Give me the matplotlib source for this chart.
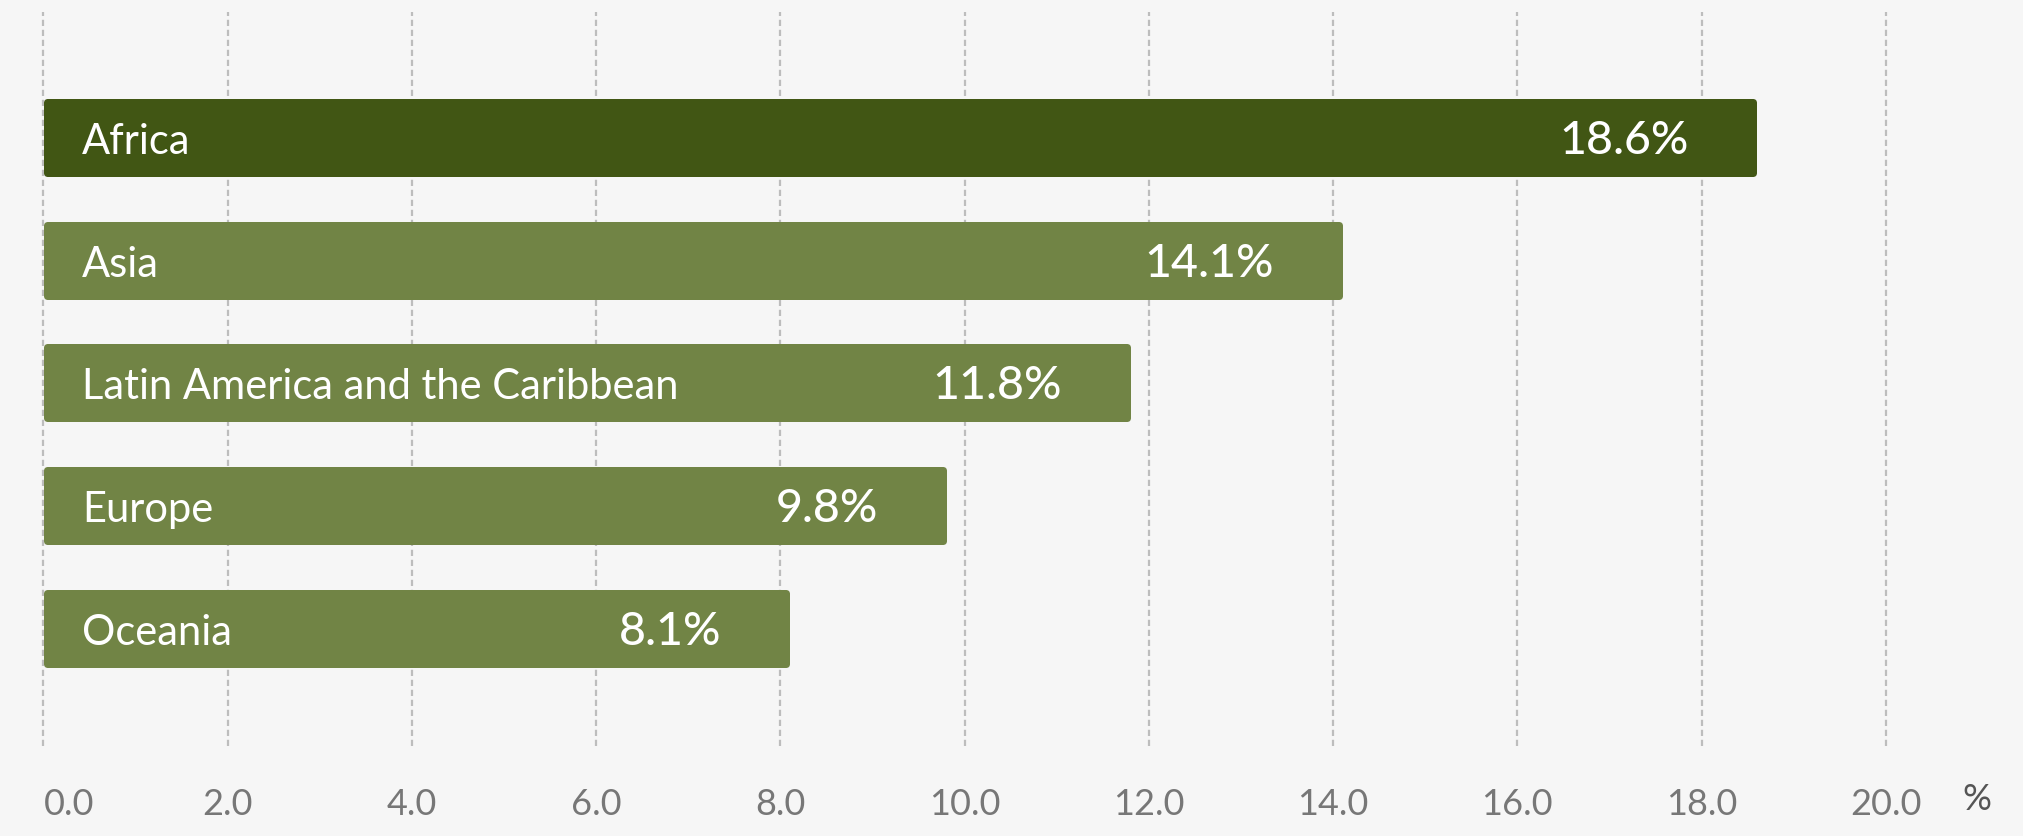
import matplotlib.pyplot as plt

plt.rcParams['font.family'] = ['Lato', 'DejaVu Sans']

regions = ['Africa', 'Asia', 'Latin America and the Caribbean', 'Europe', 'Oceania']
shares = [18.6, 14.1, 11.8, 9.8, 8.1]
bar_colors = ['#415614', '#718445', '#718445', '#718445', '#718445']
xticks = [0, 2, 4, 6, 8, 10, 12, 14, 16, 18, 20]

bg = '#f6f6f6'
fig = plt.figure(figsize=(20.23, 8.36), dpi=100, facecolor=bg)
ax = fig.add_axes([0, 0.1077, 1, 0.8779], facecolor=bg)

# rounded corners come from a thick round-joined edge; shrink the bar by the
# half edge width so its outer extent still matches the value
px_x = 1 / 92.1    # data units per pixel along x
px_y = 1 / 122.7   # data units per pixel along y
edge_px = 7
padx = edge_px / 2 * px_x
pady = edge_px / 2 * px_y
bar_h = 0.636
base_off = 16.5 * px_y   # baseline sits below bar centre

ypos = list(range(len(regions)))
ax.barh(ypos, [v - 2 * padx for v in shares], left=padx, height=bar_h - 2 * pady,
        color=bar_colors, edgecolor=bar_colors, linewidth=edge_px * 0.72,
        joinstyle='round', zorder=3)

for y, name, v in zip(ypos, regions, shares):
    ax.text(0.42, y + base_off, name, color='white', fontsize=30, fontweight='normal',
            va='baseline', ha='left', zorder=4)
    ax.text(v - 0.74, y + base_off, '%.1f%%' % v, color='white', fontsize=33.5,
            fontweight='medium', va='baseline', ha='right', zorder=4)

ax.set_xlim(-0.472, 21.49)
ax.set_ylim(4.96, -1.023)

ax.set_xticks(xticks)
ax.set_xticklabels(['%.1f' % t for t in xticks])
ax.tick_params(axis='x', length=0, pad=30, labelsize=26, labelcolor='#777777')
ax.get_xticklabels()[0].set_horizontalalignment('left')
ax.set_yticks([])
ax.grid(axis='x', color='#bdbdbd', linewidth=1.6, linestyle=(0, (2.8, 1.7)), zorder=0)
for s in ax.spines.values():
    s.set_visible(False)

fig.text(1977 / 2023, 1 - 800 / 836, '%', fontsize=26, color='#555555',
         ha='center', va='center')

fig.savefig('out.png', facecolor=bg)
